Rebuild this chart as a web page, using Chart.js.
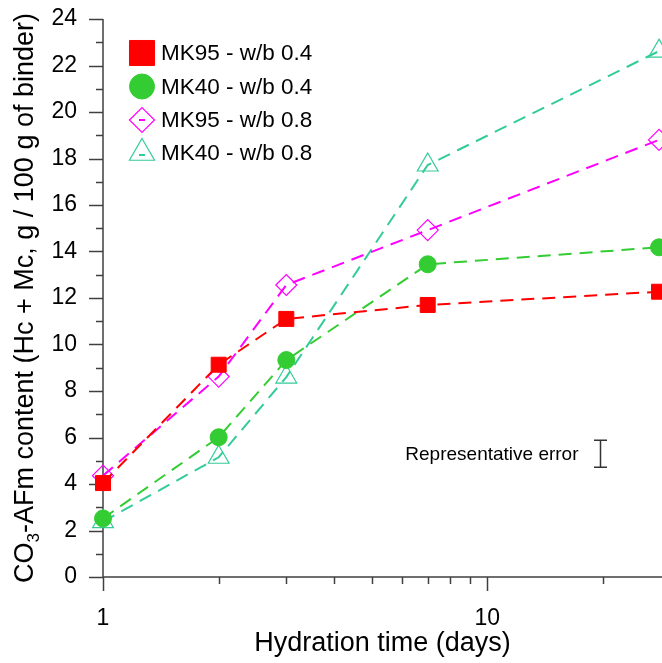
<!DOCTYPE html>
<html>
<head>
<meta charset="utf-8">
<script src="https://cdn.jsdelivr.net/npm/chart.js@4.4.0/dist/chart.umd.min.js"></script>
<style>
html, body { margin: 0; padding: 0; background: #fff; }
#wrap { width: 662px; height: 663px; position: relative; }
</style>
</head>
<body>
<div id="wrap"><canvas id="chart"></canvas></div>
<script>
// hydration times (days) and CO3-AFm contents
var days = [1, 2, 3, 7, 28];
var mk95_04 = [4.04, 9.13, 11.1, 11.7, 12.27];
var mk40_04 = [2.52, 6.01, 9.33, 13.45, 14.18];
var mk95_08 = [4.36, 8.62, 12.56, 14.92, 18.8];
var mk40_08 = [2.38, 5.15, 8.6, 17.72, 22.62];
var seriesNames = ["MK95 - w/b 0.4", "MK40 - w/b 0.4", "MK95 - w/b 0.8", "MK40 - w/b 0.8"];
var xLabelled = [1, 10];
var yLabelStep = 2;
var errorBar = { x: 19.7, y: 5.3, err: 0.58, label: "Representative error" };

var FONT = '"Liberation Sans", Arial, sans-serif';
var AXIS_COL = "#404040";

function pts(vals) {
	return days.map(function (d, i) { return { x: d, y: vals[i] }; });
}

function series(label, vals, color, style, radius, filled, legendRadius) {
	return {
		label: label,
		data: pts(vals),
		borderColor: color,
		borderWidth: 2,
		borderDash: [13, 8],
		pointStyle: style,
		pointRadius: radius,
		pointHoverRadius: radius,
		pointBorderWidth: filled ? 1 : 1.2,
		pointBorderColor: color,
		pointBackgroundColor: filled ? color : "rgba(0,0,0,0)",
		fill: false,
		tension: 0,
		clip: false,
		legendRadius: legendRadius,
		filled: filled
	};
}

var datasets = [
	series(seriesNames[0], mk95_04, "#ff0000", "rect", 10.6, true, 17.7),
	series(seriesNames[1], mk40_04, "#33cc33", "circle", 8.5, true, 12.5),
	series(seriesNames[2], mk95_08, "#ff00ff", "rectRot", 10.5, false, 12.5),
	series(seriesNames[3], mk40_08, "#33cc99", "triangle", 12, false, 14.5)
];

function isDecadeStep(v) {
	var p = Math.pow(10, Math.floor(Math.log10(v) + 1e-9));
	var m = v / p;
	return Math.abs(m - Math.round(m)) < 1e-6;
}

// axis lines, tick marks, titles
var axesPlugin = {
	id: "axesPlugin",
	beforeDatasetsDraw: function (chart) {
		var ctx = chart.ctx, ca = chart.chartArea;
		var xs = chart.scales.x, ys = chart.scales.y;
		ctx.save();
		ctx.strokeStyle = AXIS_COL;
		ctx.lineWidth = 1.5;
		ctx.beginPath();
		ctx.moveTo(ca.left, ca.top);
		ctx.lineTo(ca.left, ca.bottom);
		ctx.moveTo(ca.left, ca.bottom);
		ctx.lineTo(ca.right, ca.bottom);
		// y ticks
		ys.ticks.forEach(function (t) {
			var y = Math.round(ys.getPixelForValue(t.value)) + 0.5;
			var len = (t.value % yLabelStep === 0) ? 14 : 7;
			ctx.moveTo(ca.left - len, y);
			ctx.lineTo(ca.left, y);
		});
		// x ticks
		xs.ticks.forEach(function (t) {
			if (!isDecadeStep(t.value)) return;
			var x = Math.round(xs.getPixelForValue(t.value)) + 0.5;
			var len = xLabelled.indexOf(t.value) >= 0 ? 14 : 7;
			ctx.moveTo(x, ca.bottom);
			ctx.lineTo(x, ca.bottom + len);
		});
		ctx.stroke();

		// x title
		ctx.fillStyle = "#000";
		ctx.font = "27px " + FONT;
		ctx.textAlign = "center";
		ctx.textBaseline = "alphabetic";
		ctx.fillText("Hydration time (days)", (ca.left + ca.right) / 2, 651);

		// y title with subscript
		var big = "27px " + FONT, small = "17px " + FONT;
		var parts = [
			{ t: "CO", f: big, dy: 0 },
			{ t: "3", f: small, dy: 6 },
			{ t: "-AFm content (Hc + Mc, g / 100 g of binder)", f: big, dy: 0 }
		];
		var total = 0;
		parts.forEach(function (p) { ctx.font = p.f; p.w = ctx.measureText(p.t).width; total += p.w; });
		ctx.translate(0, (ca.top + ca.bottom) / 2);
		ctx.rotate(-Math.PI / 2);
		ctx.textAlign = "left";
		var x0 = -total / 2;
		parts.forEach(function (p) {
			ctx.font = p.f;
			ctx.fillText(p.t, x0, 33 + p.dy);
			x0 += p.w;
		});
		ctx.restore();
	}
};

// legend inside the plot and the representative error bar
var overlayPlugin = {
	id: "overlayPlugin",
	afterDatasetsDraw: function (chart) {
		var ctx = chart.ctx;
		var xs = chart.scales.x, ys = chart.scales.y;
		ctx.save();
		var rowY = [53, 86.5, 120, 153];
		chart.data.datasets.forEach(function (ds, i) {
			var cx = 142, cy = rowY[i];
			ctx.fillStyle = ds.pointBackgroundColor;
			ctx.strokeStyle = ds.borderColor;
			ctx.lineWidth = ds.filled ? 1 : 1.2;
			ctx.setLineDash([]);
			Chart.helpers.drawPoint(ctx, {
				pointStyle: ds.pointStyle,
				radius: ds.legendRadius,
				rotation: 0,
				borderWidth: ctx.lineWidth
			}, cx, cy);
			if (!ds.filled) {
				ctx.lineWidth = 2;
				ctx.beginPath();
				ctx.moveTo(cx - 3, cy + (ds.pointStyle === "triangle" ? 2 : 0));
				ctx.lineTo(cx + 3, cy + (ds.pointStyle === "triangle" ? 2 : 0));
				ctx.stroke();
			}
			ctx.fillStyle = "#000";
			ctx.font = "22.5px " + FONT;
			ctx.textAlign = "left";
			ctx.textBaseline = "middle";
			ctx.fillText(ds.label, 161, cy + 1);
		});

		var ex = Math.round(xs.getPixelForValue(errorBar.x)) + 0.5;
		var eTop = ys.getPixelForValue(errorBar.y + errorBar.err);
		var eBot = ys.getPixelForValue(errorBar.y - errorBar.err);
		ctx.strokeStyle = "#333";
		ctx.lineWidth = 1.5;
		ctx.beginPath();
		ctx.moveTo(ex, eTop); ctx.lineTo(ex, eBot);
		ctx.moveTo(ex - 6.5, eTop); ctx.lineTo(ex + 6.5, eTop);
		ctx.moveTo(ex - 6.5, eBot); ctx.lineTo(ex + 6.5, eBot);
		ctx.stroke();
		ctx.fillStyle = "#000";
		ctx.font = "19px " + FONT;
		ctx.textAlign = "right";
		ctx.textBaseline = "middle";
		ctx.fillText(errorBar.label, ex - 22, (eTop + eBot) / 2 + 1);
		ctx.restore();
	}
};

new Chart(document.getElementById("chart"), {
	type: "line",
	data: { datasets: datasets },
	options: {
		responsive: true,
		maintainAspectRatio: false,
		animation: false,
		events: [],
		layout: { autoPadding: false, padding: { top: 19, right: 0, left: 0, bottom: 0 } },
		plugins: { legend: { display: false }, tooltip: { enabled: false } },
		scales: {
			x: {
				type: "logarithmic",
				min: 1,
				max: 28.5,
				grid: { display: false, drawTicks: false },
				border: { display: false },
				afterFit: function (s) { s.height = 86; s.paddingRight = 0; s.paddingLeft = 0; },
				ticks: {
					autoSkip: false,
					maxRotation: 0,
					padding: 28,
					color: "#000",
					font: { family: FONT, size: 23 },
					callback: function (v) { return xLabelled.indexOf(v) >= 0 ? String(v) : ""; }
				}
			},
			y: {
				min: 0,
				max: 24,
				grid: { display: false, drawTicks: false },
				border: { display: false },
				afterFit: function (s) { s.width = 103; s.paddingTop = 0; s.paddingBottom = 0; },
				ticks: {
					stepSize: 1,
					autoSkip: false,
					padding: 26,
					color: "#000",
					font: { family: FONT, size: 23 },
					callback: function (v) { return v % yLabelStep === 0 ? String(v) : ""; }
				}
			}
		}
	},
	plugins: [axesPlugin, overlayPlugin]
});
</script>
</body>
</html>
